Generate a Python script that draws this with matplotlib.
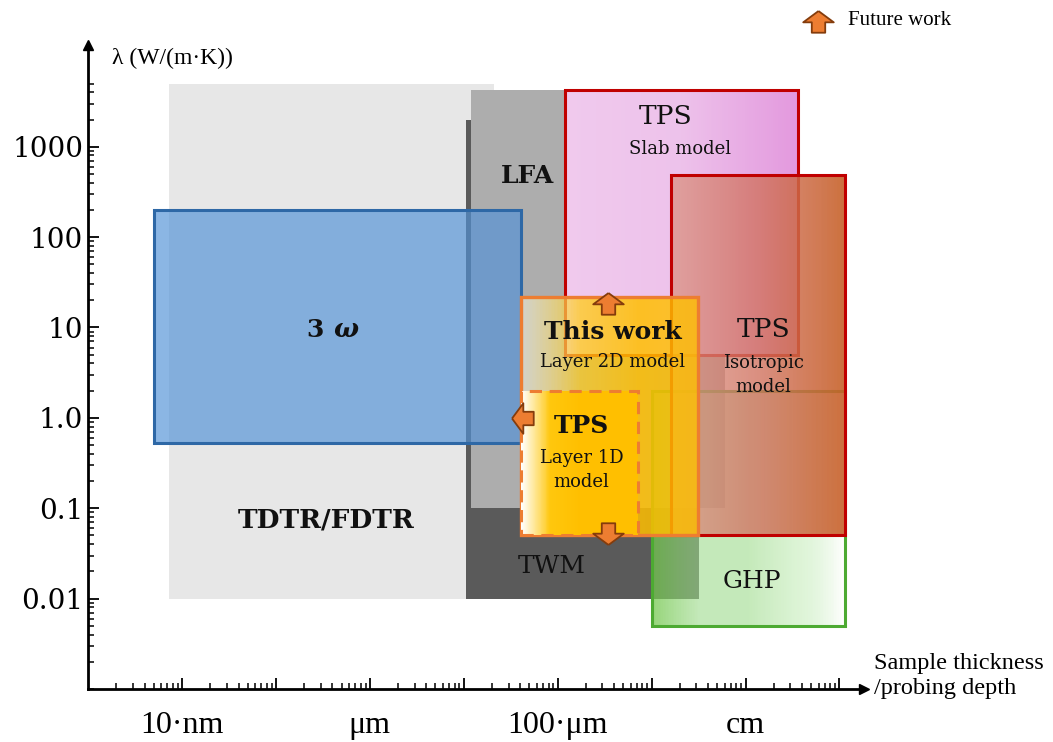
import numpy as np
import matplotlib
matplotlib.use("Agg")
import matplotlib.pyplot as plt
from matplotlib.patches import Rectangle
from matplotlib.colors import LinearSegmentedColormap
from matplotlib.path import Path

# measurement windows: sample thickness (m) and conductivity (W/(m*K))
methods = ["TDTR/FDTR", "TWM", "LFA", "3w", "GHP", "TPS slab", "TPS isotropic", "This work", "TPS layer 1D"]
thick_min = [7.3e-9, 1.05e-5, 1.2e-5, 5.0e-9, 1.0e-3, 1.2e-4, 1.6e-3, 4.1e-5, 4.1e-5]
thick_max = [2.1e-5, 3.2e-3, 6.1e-3, 4.1e-5, 0.116, 0.036, 0.116, 3.1e-3, 7.1e-4]
lam_min = [0.01, 0.01, 0.1, 0.53, 0.005, 5.0, 0.05, 0.05, 0.05]
lam_max = [5000, 2000, 4250, 200, 2.0, 4250, 490, 21.5, 2.0]

# future-work arrows: (thickness, lambda, direction)
arrow_pts = [(3.4e-4, 19.0, "up"), (3.4e-4, 0.05, "down"), (4.1e-5, 1.0, "left")]

xtick_vals = [1e-8, 1e-6, 1e-4, 1e-2]
xtick_labels = ["10·nm", "μm", "100·μm", "cm"]
ytick_vals = [0.01, 0.1, 1.0, 10, 100, 1000]
ytick_labels = ["0.01", "0.1", "1.0", "10", "100", "1000"]

SERIF = "DejaVu Serif"
TIMES = "Liberation Serif"

fig = plt.figure(figsize=(10.53, 7.42), dpi=100)
ax = fig.add_axes([0.0836, 0.0714, 0.735, 0.868])
ax.set_xscale("log")
ax.set_yscale("log")
ax.set_xlim(1e-9, 10 ** -0.76)
ax.set_ylim(1e-3, 10 ** 4.126)


def box(i, fc=None, ec="none", lw=0, z=1, alpha=1.0, ls="-"):
    x0, x1, y0, y1 = thick_min[i], thick_max[i], lam_min[i], lam_max[i]
    if fc is not None:
        ax.add_patch(Rectangle((x0, y0), x1 - x0, y1 - y0, facecolor=fc, edgecolor="none",
                               alpha=alpha, zorder=z))
    if ec != "none":
        ax.add_patch(Rectangle((x0, y0), x1 - x0, y1 - y0, facecolor="none", edgecolor=ec,
                               lw=lw, ls=ls, zorder=z + 0.01))


def grad_box(i, stops, z, ec="none", lw=0, ls="-"):
    # horizontal colour ramp, evenly spaced in log thickness
    x0, x1, y0, y1 = thick_min[i], thick_max[i], lam_min[i], lam_max[i]
    cmap = LinearSegmentedColormap.from_list(methods[i], stops)
    n = 120
    xe = np.logspace(np.log10(x0), np.log10(x1), n + 1)
    ye = np.array([y0, y1])
    c = np.linspace(0, 1, n)[None, :]
    ax.pcolormesh(xe, ye, c, cmap=cmap, vmin=0, vmax=1, shading="flat", zorder=z,
                  edgecolors="none", antialiased=False)
    if ec != "none":
        ax.add_patch(Rectangle((x0, y0), x1 - x0, y1 - y0, facecolor="none", edgecolor=ec,
                               lw=lw, ls=ls, zorder=z + 0.01))


# grey backgrounds
box(0, fc="#e7e7e7", z=1)
box(1, fc="#5a5a5a", z=2)
box(2, fc="#adadad", z=3)
# 3 omega
box(3, fc=(82 / 255, 146 / 255, 215 / 255), alpha=0.67, z=4)
box(3, ec="#2e68a6", lw=2.2, z=4)
# GHP
grad_box(4, [(0.45, 0.78, 0.30, 0.75), (0.62, 0.86, 0.55, 0.6), (0.62, 0.86, 0.55, 0.6),
             (0.75, 0.92, 0.70, 0.55), (1, 1, 1, 0.9)], z=5, ec="#4daa32", lw=2.2)
# TPS slab
grad_box(5, [(0.94, 0.79, 0.93, 1.0), (0.93, 0.76, 0.92, 1.0), (0.89, 0.60, 0.87, 1.0)],
         z=6, ec="#c00000", lw=2.2)
# TPS isotropic
grad_box(6, [(0.86, 0.58, 0.52, 0.75), (0.82, 0.45, 0.38, 0.8), (0.78, 0.38, 0.16, 0.9)],
         z=7, ec="#c00000", lw=2.2)
# this work
grad_box(7, [(0.95, 0.95, 0.88, 0.55), (1.0, 0.80, 0.1, 0.75), (1.0, 0.75, 0.0, 0.85), (1.0, 0.75, 0.0, 0.8)],
         z=8, ec="#ed7d31", lw=2.4)
# TPS layer 1D model
grad_box(8, [(1, 1, 1, 1), (1.0, 0.78, 0.05, 1), (1.0, 0.75, 0.0, 1), (1.0, 0.75, 0.0, 1),
             (1.0, 0.75, 0.0, 1)], z=9, ec="#ed7d31", lw=2.2, ls=(0, (4, 2.5)))

# block arrow marker
up_arrow = Path([(0, 0.62), (1, -0.12), (0.44, -0.12), (0.44, -0.8), (-0.44, -0.8),
                 (-0.44, -0.12), (-1, -0.12), (0, 0.62)])
rot = {"up": 0, "down": 180, "left": 90}


def arrow_marker(direction):
    ang = np.deg2rad(rot[direction])
    r = np.array([[np.cos(ang), -np.sin(ang)], [np.sin(ang), np.cos(ang)]])
    return Path(up_arrow.vertices @ r.T)


for xa, ya, d in arrow_pts:
    ax.plot([xa], [ya], marker=arrow_marker(d), markersize=22, mfc="#ed7d31", mec="#843c0c",
            mew=1.3, ls="none", zorder=10, clip_on=False)

# legend arrow
ax.plot([0.777], [0.973], marker=arrow_marker("up"), markersize=22, mfc="#ed7d31", mec="#843c0c",
        mew=1.3, ls="none", transform=fig.transFigure, clip_on=False, zorder=10)
fig.text(0.805, 0.973, "Future work", fontsize=15, family=TIMES, va="center", ha="left")

# box labels
tk = dict(family=SERIF, color="#111111", ha="center", va="center", zorder=12)
ax.text(3.4e-7, 0.0745, "TDTR/FDTR", fontsize=19, weight="bold", **tk)
ax.text(3.2e-7, 9.5, "3", fontsize=18, weight="bold", family=SERIF, color="#111111",
        ha="right", va="center", zorder=12)
ax.text(4.1e-7, 9.5, "ω", fontsize=19, weight="bold", style="italic", family=SERIF,
        color="#111111", ha="left", va="center", zorder=12)
ax.text(4.8e-5, 480, "LFA", fontsize=18, weight="bold", **tk)
ax.text(8.6e-5, 0.0225, "TWM", fontsize=18, **tk)
ax.text(0.0116, 0.0154, "GHP", fontsize=18, **tk)
ax.text(1.4e-3, 2140, "TPS", fontsize=19, **tk)
ax.text(2.0e-3, 950, "Slab model", fontsize=13, **tk)
ax.text(3.9e-4, 8.9, "This work", fontsize=18, weight="bold", **tk)
ax.text(3.85e-4, 4.1, "Layer 2D model", fontsize=13, **tk)
ax.text(0.0155, 9.5, "TPS", fontsize=19, **tk)
ax.text(0.0155, 3.0, "Isotropic\nmodel", fontsize=13, linespacing=1.4, **tk)
ax.text(1.8e-4, 0.81, "TPS", fontsize=18, weight="bold", **tk)
ax.text(1.8e-4, 0.265, "Layer 1D\nmodel", fontsize=13, linespacing=1.45, **tk)

# axes: only left and bottom, with arrow heads
for s in ["top", "right"]:
    ax.spines[s].set_visible(False)
for s in ["left", "bottom"]:
    ax.spines[s].set_linewidth(2.0)
    ax.spines[s].set_zorder(11)
ax.plot(1.003, 0, ">", color="black", markersize=7, transform=ax.transAxes, clip_on=False, zorder=11)
ax.plot(0, 1.0, "^", color="black", markersize=7, transform=ax.transAxes, clip_on=False, zorder=11)

ax.xaxis.set_major_locator(matplotlib.ticker.FixedLocator([10.0 ** k for k in range(-8, 0)]))
ax.xaxis.set_minor_locator(matplotlib.ticker.FixedLocator(
    [m * 10.0 ** k for k in range(-9, -1) for m in range(2, 10)]))
ax.xaxis.set_major_formatter(matplotlib.ticker.FuncFormatter(
    lambda v, p: dict(zip([round(np.log10(t)) for t in xtick_vals], xtick_labels)).get(round(np.log10(v)), "")))
ax.xaxis.set_minor_formatter(matplotlib.ticker.NullFormatter())

ax.yaxis.set_major_locator(matplotlib.ticker.FixedLocator(ytick_vals))
ax.yaxis.set_minor_locator(matplotlib.ticker.FixedLocator(
    [m * 10.0 ** k for k in range(-3, 3) for m in range(2, 10)] + [1e-3, 2000, 3000, 4000, 5000]))
ax.yaxis.set_major_formatter(matplotlib.ticker.FixedFormatter(ytick_labels))
ax.yaxis.set_minor_formatter(matplotlib.ticker.NullFormatter())

ax.tick_params(axis="x", which="major", direction="in", length=8, width=1.3, pad=16)
ax.tick_params(axis="x", which="minor", direction="in", length=4.5, width=1.1)
ax.tick_params(axis="y", which="major", direction="in", length=8, width=1.3, pad=3.5)
ax.tick_params(axis="y", which="minor", direction="in", length=4.5, width=1.1)
for lab in ax.get_xticklabels():
    lab.set_fontfamily(TIMES)
    lab.set_fontsize(23)
for lab in ax.get_yticklabels():
    lab.set_fontfamily(SERIF)
    lab.set_fontsize(20)

fig.text(0.106, 0.921, "λ (W/(m·K))", fontsize=17, family=TIMES, va="center", ha="left")
fig.text(0.830, 0.089, "Sample thickness\n/probing depth", fontsize=17.5, family=TIMES,
         va="center", ha="left", linespacing=1.3)

fig.savefig("out.png", dpi=100)
